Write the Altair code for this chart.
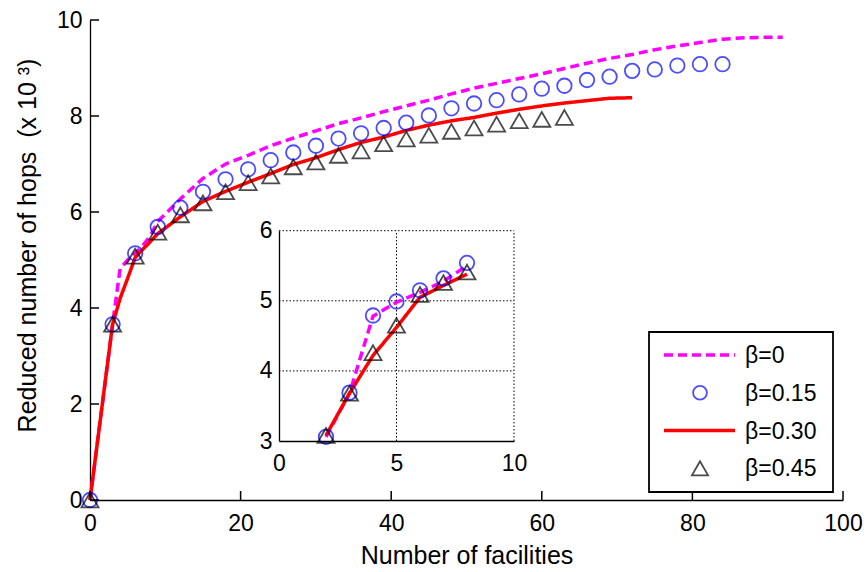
import altair as alt
import pandas as pd

# ---------------- data ----------------
SERIES = ["β=0", "β=0.15", "β=0.30", "β=0.45"]
COLORS = ["#ff00ff", "#0000ff", "#ff0000", "#000000"]

X_TICKS = [0, 20, 40, 60, 80, 100]
Y_TICKS = [0, 2, 4, 6, 8, 10]
INSET_X_TICKS = [0, 5, 10]
INSET_Y_TICKS = [3, 4, 5, 6]

# beta = 0 (magenta dashed line)
b0_x = [0, 3, 4, 5, 6, 7, 8, 9, 12, 15, 18, 21, 24, 27, 30, 33, 36, 39, 42, 45,
        48, 51, 54, 57, 60, 63, 66, 69, 72, 75, 78, 81, 84, 87, 90, 92]
b0_y = [0, 3.66, 4.82, 5.0, 5.14, 5.3, 5.5, 5.8, 6.27, 6.7, 7.0, 7.18, 7.38, 7.54,
        7.69, 7.84, 7.96, 8.09, 8.21, 8.33, 8.46, 8.58, 8.68, 8.78, 8.88, 8.99,
        9.1, 9.2, 9.28, 9.38, 9.46, 9.53, 9.6, 9.63, 9.64, 9.64]

# beta = 0.15 (blue circles)
b15_x = [0, 3, 6, 9, 12, 15, 18, 21, 24, 27, 30, 33, 36, 39, 42, 45, 48, 51, 54,
         57, 60, 63, 66, 69, 72, 75, 78, 81, 84]
b15_y = [0, 3.66, 5.14, 5.69, 6.09, 6.42, 6.68, 6.89, 7.08, 7.24, 7.38, 7.53, 7.64,
         7.75, 7.86, 8.01, 8.16, 8.26, 8.33, 8.45, 8.57, 8.63, 8.75, 8.82, 8.94,
         8.97, 9.05, 9.08, 9.08]

# beta = 0.30 (red solid line)
b30_x = [0, 3, 4, 5, 6, 7, 8, 9, 12, 15, 18, 21, 24, 27, 30, 33, 36, 39, 42, 45,
         48, 51, 54, 57, 60, 63, 66, 69, 72]
b30_y = [0, 3.66, 4.2, 4.62, 5.05, 5.22, 5.38, 5.55, 5.9, 6.22, 6.43, 6.62, 6.8,
         6.99, 7.13, 7.3, 7.45, 7.56, 7.7, 7.81, 7.9, 7.97, 8.06, 8.14, 8.21, 8.27,
         8.32, 8.37, 8.38]

# beta = 0.45 (black triangles)
b45_x = [0, 3, 6, 9, 12, 15, 18, 21, 24, 27, 30, 33, 36, 39, 42, 45, 48, 51, 54,
         57, 60, 63]
b45_y = [0, 3.66, 5.08, 5.58, 5.94, 6.19, 6.42, 6.61, 6.75, 6.94, 7.04, 7.18, 7.27,
         7.42, 7.52, 7.6, 7.68, 7.75, 7.83, 7.9, 7.93, 7.97]

# inset (zoom on 2..8 facilities)
in_x = [2, 3, 4, 5, 6, 7, 8]
in_b0 = [3.06, 3.68, 4.78, 4.98, 5.12, 5.28, 5.5]
in_b15 = [3.06, 3.69, 4.79, 4.99, 5.15, 5.32, 5.54]
in_b30 = [3.08, 3.68, 4.22, 4.62, 5.05, 5.22, 5.38]
in_b45 = [3.08, 3.68, 4.26, 4.65, 5.09, 5.26, 5.41]

GRID_X = [5, 10]
GRID_Y = [4, 5, 6]

# ---------------- layout / style ----------------
W, H = 753, 480
X_DOM, Y_DOM = [0, 100], [0, 10]
FONT = "Liberation Sans"
SHAPES = ["stroke", "circle", "stroke", "triangle-up"]
DASHES = [[9, 5], [1, 0], [1, 0], [1, 0]]
TICK_PX = 9


def frame(xs, ys, name):
    return pd.DataFrame({"x": xs, "y": ys, "series": name})


main_lines = pd.concat([frame(b0_x, b0_y, SERIES[0]), frame(b30_x, b30_y, SERIES[2])])
main_circ = frame(b15_x, b15_y, SERIES[1])
main_tri = frame(b45_x, b45_y, SERIES[3])
in_lines = pd.concat([frame(in_x, in_b0, SERIES[0]), frame(in_x, in_b30, SERIES[2])])
in_circ = frame(in_x, in_b15, SERIES[1])
in_tri = frame(in_x, in_b45, SERIES[3])

color_scale = alt.Scale(domain=SERIES, range=COLORS)
shape_scale = alt.Scale(domain=SERIES, range=SHAPES)
dash_scale = alt.Scale(domain=SERIES, range=DASHES)

mx_scale = alt.Scale(domain=X_DOM, nice=False)
my_scale = alt.Scale(domain=Y_DOM, nice=False)
ix_scale = alt.Scale(domain=[0, 10], range=[189, 424], nice=False)
iy_scale = alt.Scale(domain=[3, 6], range=[421, 210.7], nice=False)
leg_y = alt.Scale(type="point", domain=SERIES, range=[335, 448.3], padding=0)

COL = alt.Color("series:N", scale=color_scale, legend=None)
SHP = alt.Shape("series:N", scale=shape_scale, legend=None)
DSH = alt.StrokeDash("series:N", scale=dash_scale, legend=None)

# ---- main plot ----
main_line_layer = alt.Chart(main_lines).mark_line(strokeWidth=3.5).encode(
    x=alt.X("x:Q", scale=mx_scale, axis=alt.Axis(
        orient="bottom", values=X_TICKS, ticks=False, grid=False, labelPadding=12,
        labelFlush=False, title="Number of facilities", titlePadding=8)),
    y=alt.Y("y:Q", scale=my_scale, axis=alt.Axis(
        orient="left", values=Y_TICKS, ticks=False, grid=False, labelPadding=8,
        labelFlush=False, title="Reduced number of hops \u00a0(x 10 ³)",
        titlePadding=16, titleY=225)),
    color=COL, strokeDash=DSH,
)


def points(df, xs, ys, size):
    return alt.Chart(df).mark_point(filled=False, size=size, strokeWidth=1.8).encode(
        x=alt.X("x:Q", scale=xs, axis=None),
        y=alt.Y("y:Q", scale=ys, axis=None),
        color=COL, shape=SHP,
    )


main_circ_layer = points(main_circ, mx_scale, my_scale, 210)
main_tri_layer = points(main_tri, mx_scale, my_scale, 290)

# inward tick marks of the main axes
x_ticks = alt.Chart(pd.DataFrame({"t": X_TICKS})).mark_rule(color="black", strokeWidth=1.5).encode(
    x=alt.X("t:Q", scale=mx_scale, axis=None),
    y=alt.value(H), y2=alt.value(H - TICK_PX),
)
y_ticks = alt.Chart(pd.DataFrame({"t": Y_TICKS})).mark_rule(color="black", strokeWidth=1.5).encode(
    y=alt.Y("t:Q", scale=my_scale, axis=None),
    x=alt.value(0), x2=alt.value(TICK_PX),
)

# ---- inset ----
grid_v = alt.Chart(pd.DataFrame({"gx": GRID_X})).mark_rule(
    color="black", strokeWidth=1, strokeDash=[1.5, 2]).encode(
    x=alt.X("gx:Q", scale=ix_scale, axis=None),
    y=alt.YDatum(INSET_Y_TICKS[0], scale=iy_scale, axis=None),
    y2=alt.datum(INSET_Y_TICKS[-1]),
)
grid_h = alt.Chart(pd.DataFrame({"gy": GRID_Y})).mark_rule(
    color="black", strokeWidth=1, strokeDash=[1.5, 2]).encode(
    y=alt.Y("gy:Q", scale=iy_scale, axis=None),
    x=alt.XDatum(INSET_X_TICKS[0], scale=ix_scale, axis=None),
    x2=alt.datum(INSET_X_TICKS[-1]),
)
in_line_layer = alt.Chart(in_lines).mark_line(strokeWidth=3.5).encode(
    x=alt.X("x:Q", scale=ix_scale, axis=alt.Axis(
        orient="bottom", offset=421 - H, values=INSET_X_TICKS, ticks=False, grid=False,
        labelPadding=11, labelFlush=False, title=None)),
    y=alt.Y("y:Q", scale=iy_scale, axis=alt.Axis(
        orient="left", offset=-189, values=INSET_Y_TICKS, ticks=False, grid=False,
        labelPadding=7, labelFlush=False, title=None)),
    color=COL, strokeDash=DSH,
)
in_circ_layer = points(in_circ, ix_scale, iy_scale, 210)
in_tri_layer = points(in_tri, ix_scale, iy_scale, 290)

# ---- legend ----
leg_df = pd.DataFrame({"series": SERIES})
leg_box = alt.Chart(leg_df.head(1)).mark_rect(
    fill="white", stroke="black", strokeWidth=1.8).encode(
    x=alt.value(559), x2=alt.value(743), y=alt.value(312), y2=alt.value(472),
)
leg_lines = alt.Chart(leg_df[leg_df.series.isin([SERIES[0], SERIES[2]])]).mark_rule(
    strokeWidth=3.5).encode(
    x=alt.value(574), x2=alt.value(645),
    y=alt.Y("series:N", scale=leg_y, axis=None),
    color=COL, strokeDash=DSH,
)
leg_circ = alt.Chart(leg_df[leg_df.series == SERIES[1]]).mark_point(
    filled=False, size=190, strokeWidth=1.8).encode(
    x=alt.value(610), y=alt.Y("series:N", scale=leg_y, axis=None), color=COL, shape=SHP,
)
leg_tri = alt.Chart(leg_df[leg_df.series == SERIES[3]]).mark_point(
    filled=False, size=260, strokeWidth=1.8).encode(
    x=alt.value(610), y=alt.Y("series:N", scale=leg_y, axis=None), color=COL, shape=SHP,
)
leg_text = alt.Chart(leg_df).mark_text(
    align="left", baseline="middle", font=FONT, fontSize=23, color="black", dy=1).encode(
    x=alt.value(655), y=alt.Y("series:N", scale=leg_y, axis=None), text="series:N",
)

chart = alt.layer(
    main_line_layer, main_circ_layer, main_tri_layer, x_ticks, y_ticks,
    grid_v, grid_h, in_line_layer, in_circ_layer, in_tri_layer,
    leg_box, leg_lines, leg_circ, leg_tri, leg_text,
).resolve_scale(
    x="independent", y="independent"
).properties(
    width=W, height=H,
    autosize=alt.AutoSizeParams(type="none"),
    padding={"left": 90, "top": 20, "right": 25, "bottom": 72},
    background="white",
).configure_view(stroke=None).configure_axis(
    labelFont=FONT, labelFontSize=23, labelColor="black",
    titleFont=FONT, titleFontSize=25, titleFontWeight="normal", titleColor="black",
    domainColor="black", domainWidth=1.3, tickColor="black", tickWidth=1.2,
)

chart.save("out.html", embed_options={"renderer": "svg", "actions": False})
